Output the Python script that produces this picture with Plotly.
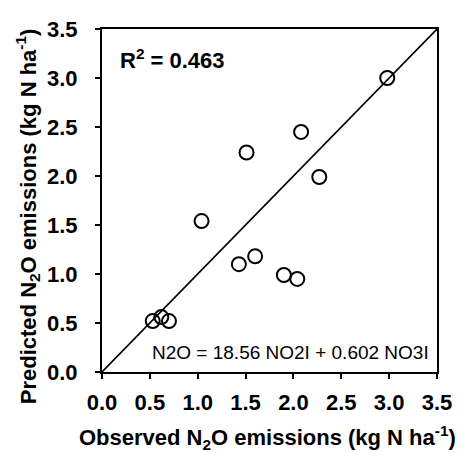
import plotly.graph_objects as go

observed = [2.98, 2.08, 1.51, 2.27, 1.04, 1.60, 1.43, 1.90, 2.04, 0.53, 0.62, 0.70]
predicted = [3.00, 2.45, 2.24, 1.99, 1.54, 1.18, 1.10, 0.99, 0.95, 0.52, 0.56, 0.52]
line_xy = [0.0, 3.5]
tick_vals = [0.0, 0.5, 1.0, 1.5, 2.0, 2.5, 3.0, 3.5]
tick_text = ["0.0", "0.5", "1.0", "1.5", "2.0", "2.5", "3.0", "3.5"]

FONT = "Liberation Sans, Arial, sans-serif"

fig = go.Figure()
fig.add_trace(go.Scatter(x=line_xy, y=line_xy, mode="lines",
                         line=dict(color="black", width=1.6), showlegend=False, hoverinfo="skip"))
fig.add_trace(go.Scatter(x=observed, y=predicted, mode="markers",
                         marker=dict(symbol="circle-open", size=14, color="black", line=dict(width=2)),
                         showlegend=False))

axis_common = dict(range=[0, 3.5], tickvals=tick_vals, ticktext=tick_text,
                   showgrid=False, zeroline=False, showline=True, mirror=True,
                   linecolor="black", linewidth=2, ticks="outside", ticklen=5,
                   tickcolor="black", tickwidth=1.5,
                   tickfont=dict(family=FONT, size=22, color="black", weight="bold"))

fig.update_xaxes(**axis_common, ticklabelstandoff=5)
fig.update_yaxes(**axis_common, ticklabelstandoff=13)

title_font = dict(family=FONT, size=22, color="black", weight="bold")
fig.add_annotation(x=0.493, y=-0.192, xref="paper", yref="paper", xanchor="center", yanchor="middle",
                   text="Observed N<sub>2</sub>O emissions (kg N ha<sup>-1</sup>)", showarrow=False,
                   font=title_font)
fig.add_annotation(x=-0.220, y=0.455, xref="paper", yref="paper", xanchor="center", yanchor="middle",
                   text="Predicted N<sub>2</sub>O emissions (kg N ha<sup>-1</sup>)", showarrow=False,
                   textangle=-90, font=title_font)

fig.add_annotation(x=0.049, y=0.9125, xref="paper", yref="paper", xanchor="left", yanchor="middle",
                   text="R<sup>2</sup> = 0.463", showarrow=False,
                   font=dict(family=FONT, size=22, color="black", weight="bold"))
fig.add_annotation(x=0.983, y=0.058, xref="paper", yref="paper", xanchor="right", yanchor="middle",
                   text="N2O = 18.56 NO2I + 0.602 NO3I", showarrow=False,
                   font=dict(family=FONT, size=19, color="black"))

fig.update_layout(width=464, height=453, margin=dict(l=102, r=17, t=29, b=81),
                  plot_bgcolor="white", paper_bgcolor="white", font=dict(family=FONT, color="black"))

fig.write_html("out.html", config={"displayModeBar": False},
               post_script="document.body.style.margin='0';document.body.style.overflow='hidden';")
